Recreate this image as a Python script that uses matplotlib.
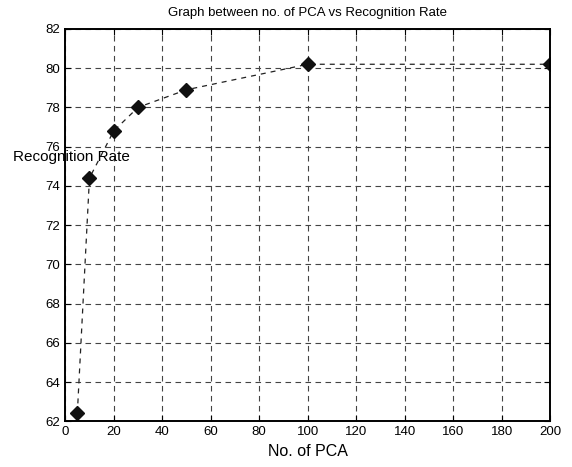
import matplotlib.pyplot as plt

n_pca = [5, 10, 20, 30, 50, 100, 200]
rec_rate = [62.4, 74.4, 76.8, 78.0, 78.9, 80.2, 80.2]

xticks = list(range(0, 201, 20))
yticks = list(range(62, 83, 2))

plt.rcParams['font.family'] = ['Liberation Sans Narrow', 'Liberation Sans', 'DejaVu Sans']

fig = plt.figure(figsize=(5.72, 4.67), dpi=100)
ax = fig.add_axes([0.114, 0.098, 0.848, 0.840])

ax.plot(n_pca, rec_rate, color='#222222', lw=0.9, linestyle=(0, (4, 4)),
        marker='D', markersize=7, markerfacecolor='#111111', markeredgecolor='#111111')

ax.set_xlim(0, 200)
ax.set_ylim(62, 82)
ax.set_xticks(xticks)
ax.set_yticks(yticks)
ax.grid(True, color='#444444', lw=0.8, linestyle=(0, (5, 4)))
ax.tick_params(direction='in', length=4, labelsize=9.5, width=0.8, top=True, right=True)
for s in ax.spines.values():
    s.set_linewidth(1.4)

ax.set_title('Graph between no. of PCA vs Recognition Rate', fontsize=9.5, pad=9)
ax.set_xlabel('No. of PCA', fontsize=11.5, labelpad=4)
ax.set_ylabel('Recognition Rate', fontsize=11, rotation=0, ha='center', va='center')
ax.yaxis.set_label_coords(0.012, 0.674)

fig.savefig('out.png', dpi=100)
